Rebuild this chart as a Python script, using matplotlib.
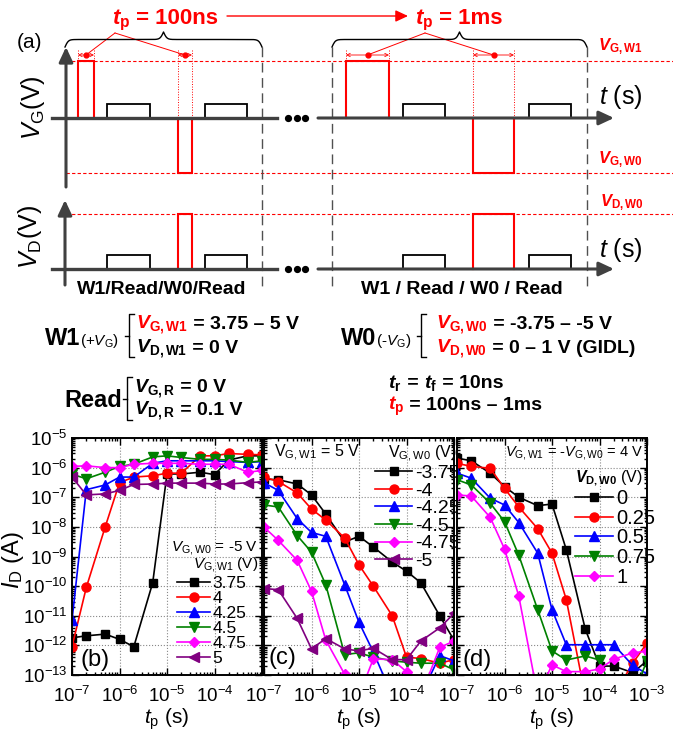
import numpy as np
import matplotlib
matplotlib.use('Agg')
import matplotlib.pyplot as plt
from matplotlib.ticker import LogLocator, NullFormatter

plt.rcParams['font.family'] = ['Liberation Sans', 'DejaVu Sans']
plt.rcParams['mathtext.fontset'] = 'custom'
plt.rcParams['mathtext.rm'] = 'Liberation Sans'
plt.rcParams['mathtext.it'] = 'Liberation Sans:italic'
plt.rcParams['mathtext.bf'] = 'Liberation Sans:bold'
try:
    plt.rcParams['mathtext.bfit'] = 'Liberation Sans:bold:italic'
except KeyError:
    pass

# ---------------- data ----------------
tp = [1e-7, 2e-7, 5e-7, 1e-6, 2e-6, 5e-6, 1e-5, 2e-5, 5e-5, 1e-4, 2e-4, 5e-4, 1e-3]

# (b) V_G,W0 = -5 V, varying V_G,W1
labels_b = ['3.75', '4', '4.25', '4.5', '4.75', '5']
b_375 = [1.8e-12, 2.1e-12, 2.4e-12, 1.6e-12, 9e-13, 1.3e-10, 6.1e-7, 6.1e-7, 7e-7, 5.8e-7, 1.8e-6, 2.5e-6, 2.5e-6]
b_400 = [9e-13, 9e-11, 1e-8, 3.1e-7, 4.8e-7, 5.3e-7, 6.5e-7, 6.5e-7, 2.5e-6, 2.5e-6, 3e-6, 2.8e-6, 2.7e-6]
b_425 = [7e-12, 1.8e-7, 2.6e-7, 4.8e-7, 4.8e-7, 1.4e-6, 1.7e-6, 1.7e-6, 1.7e-6, 1.7e-6, 1.6e-6, 1.5e-6, 1.6e-6]
b_450 = [6e-7, 4.2e-7, 7e-7, 1.1e-6, 1.3e-6, 2.3e-6, 2.5e-6, 2.2e-6, 1.9e-6, 1.9e-6, 1.8e-6, 1.5e-6, 1.7e-6]
b_475 = [1.1e-6, 1.15e-6, 1.0e-6, 1.0e-6, 1.3e-6, 1.4e-6, 1.4e-6, 1.4e-6, 1.3e-6, 1.3e-6, 1.3e-6, 7e-7, 8e-7]
b_500 = [4.8e-7, 1.2e-7, 1.3e-7, 1.7e-7, 2.7e-7, 2.8e-7, 3e-7, 3e-7, 3e-7, 2.8e-7, 2.8e-7, 3.1e-7, 3.3e-7]

# (c) V_G,W1 = 5 V, varying V_G,W0
labels_c = ['-3.75', '-4', '-4.25', '-4.5', '-4.75', '-5']
c_375 = [4.1e-7, 3.9e-7, 2.8e-7, 1.2e-7, 2.7e-8, 3.1e-9, 4.8e-9, 2.1e-9, 6.5e-10, 3.2e-10, 1.3e-10, 1e-11, 1.5e-12]
c_400 = [4.8e-7, 3.4e-7, 1.4e-7, 4e-8, 1.7e-8, 4.2e-9, 5.2e-10, 1e-10, 1e-11, 4e-13, 3.6e-13, 2.5e-13, 3.3e-13]
c_425 = [3.1e-7, 1.7e-7, 1.9e-8, 6.5e-9, 4.8e-9, 1.1e-10, 6e-12, 6e-13, 2e-14, 2e-14, 2e-14, 4.5e-13, 3e-13]
c_450 = [5.5e-8, 4.7e-8, 5.1e-9, 1.4e-9, 1.1e-10, 4.9e-13, 5.6e-13, 4e-13, 3e-13, 2.7e-13, 2.5e-13, 2.5e-13, 1.5e-13]
c_475 = [9.8e-9, 3.5e-9, 7.4e-10, 6.7e-11, 1.5e-12, 1.05e-13, 2e-14, 3.5e-13, 3.3e-13, 1.3e-13, 2e-14, 8.5e-13, 1.4e-12]
c_500 = [8.3e-11, 7.6e-11, 8.1e-12, 7.6e-13, 1.7e-12, 7.6e-13, 6.5e-13, 8e-13, 3.3e-13, 3.3e-13, 1.4e-12, 3.9e-12, 1.2e-11]

# (d) V_G,W1 = -V_G,W0 = 4 V, varying V_D,W0
labels_d = ['0', '0.25', '0.5', '0.75', '1']
d_000 = [2.1e-6, 1.7e-6, 6.5e-7, 2.3e-7, 1e-7, 5.2e-8, 5.9e-8, 1.7e-9, 3.6e-12, 2e-13, 2e-13, 1.2e-13, 3e-13]
d_025 = [1.4e-6, 1.1e-6, 9.5e-7, 2e-7, 4.7e-8, 8.7e-9, 1.3e-9, 3.5e-11, 2e-14, 2e-14, 2e-14, 2.5e-13, 1.2e-12]
d_050 = [6.5e-7, 4.4e-7, 9.3e-8, 5.5e-8, 1.4e-8, 1.3e-9, 1.6e-11, 1.05e-12, 1.05e-12, 1.05e-12, 1.05e-12, 2.1e-13, 1.1e-13]
d_075 = [3.9e-7, 2.6e-7, 6.3e-8, 1.5e-8, 1.1e-9, 1.6e-11, 6.5e-13, 3.2e-13, 4.4e-13, 3.2e-13, 2e-14, 2e-14, 3e-13]
d_100 = [1.2e-7, 1.1e-7, 2.1e-8, 1.8e-9, 4.6e-11, 2e-14, 2.2e-13, 1.3e-13, 1.3e-13, 1.6e-13, 3.4e-13, 5.6e-13, 6.4e-13]

# ---------------- figure ----------------
W, H = 673, 733
fig = plt.figure(figsize=(W / 100, H / 100), dpi=100)
ax0 = fig.add_axes([0, 0, 1, 1])
ax0.set_xlim(0, W)
ax0.set_ylim(H, 0)
ax0.axis('off')

RED = '#FF0000'
AXC = '#404040'
renderer = fig.canvas.get_renderer()


def rich(x, y, parts, fs, va='baseline'):
    for s, col, wt in parts:
        t = ax0.text(x, y, s, color=col, fontsize=fs, fontweight=wt, ha='left', va=va)
        bb = t.get_window_extent(renderer=renderer)
        x = bb.x1


def arrow(x0, y0, x1, y1, col=AXC, lw=2.2, ms=12):
    ax0.annotate('', xy=(x1, y1), xytext=(x0, y0),
                 arrowprops=dict(arrowstyle='-|>,head_length=0.75,head_width=0.35',
                                 color=col, lw=lw, shrinkA=0, shrinkB=0, mutation_scale=ms))


def pulse(x0, x1, yb, yt, col, lw):
    ax0.plot([x0, x0, x1, x1], [yb, yt, yt, yb], color=col, lw=lw, solid_joinstyle='miter')


def brace(x0, x1, ybase, h, beta=0.6):
    xm = (x0 + x1) / 2
    xh = np.linspace(x0, xm, 200)
    yh = 1 / (1 + np.exp(-beta * (xh - xh[0]))) + 1 / (1 + np.exp(-beta * (xh - xh[-1])))
    xf = np.concatenate([xh, 2 * xm - xh[::-1]])
    yf = np.concatenate([yh, yh[::-1]])
    ax0.plot(xf, ybase - (yf - 0.5) * h, color='k', lw=1.0)


# layout of schematic (pixel positions)
yG, yD = 118, 269
yW1, yW0, yDW0 = 61, 173, 214
set_short = dict(w1=(78, 94), r1=(107, 150), w0=(178, 192), r2=(205, 247))
set_long = dict(w1=(346, 389), r1=(403, 445), w0=(473, 514), r2=(529, 571))

for yy in (yW1, yW0, yDW0):
    ax0.plot([66, W], [yy, yy], color=RED, lw=0.8, dashes=(3, 2))

for xx in (262, 332, 587):
    ax0.plot([xx, xx], [47, 290], color='#505050', lw=1.0, dashes=(7, 4))

for st in (set_short, set_long):
    pulse(*st['w1'], yG, yW1, RED, 1.5)
    pulse(*st['w0'], yG, yW0, RED, 1.5)
    pulse(*st['r1'], yG, 104, 'k', 1.3)
    pulse(*st['r2'], yG, 104, 'k', 1.3)
    pulse(*st['w0'], yD, yDW0, RED, 1.5)
    pulse(*st['r1'], yD, 255, 'k', 1.3)
    pulse(*st['r2'], yD, 255, 'k', 1.3)
    for xx in st['w1']:
        ax0.plot([xx, xx], [50, yW1], color=RED, lw=0.7, ls=':')
    for xx in st['w0']:
        ax0.plot([xx, xx], [50, yW0], color=RED, lw=0.7, ls=':')

for st, tip in ((set_short, (115, 33)), (set_long, (425, 33))):
    for key in ('w1', 'w0'):
        a, b = st[key]
        m = (a + b) / 2
        ax0.annotate('', xy=(a, 55), xytext=(m, 55),
                     arrowprops=dict(arrowstyle='->', color=RED, lw=0.6, shrinkA=0, shrinkB=0, mutation_scale=6))
        ax0.annotate('', xy=(b, 55), xytext=(m, 55),
                     arrowprops=dict(arrowstyle='->', color=RED, lw=0.6, shrinkA=0, shrinkB=0, mutation_scale=6))
        ax0.plot([m], [55], 'o', color=RED, ms=3.5)
        ax0.plot([m, tip[0]], [55, tip[1]], color=RED, lw=0.7)

ax0.plot([52, 277], [yG, yG], color=AXC, lw=2.4)
arrow(318, yG, 614, yG)
arrow(66, 187, 66, 47)
ax0.plot([52, 277], [yD, yD], color=AXC, lw=2.4)
arrow(318, yD, 614, yD)
arrow(65, 285, 65, 200)
for yy in (yG, yD):
    ax0.plot([288, 296.5, 305], [yy] * 3, 'o', color='k', ms=4.2)

brace(65, 262, 47, 15)
brace(332, 587, 47, 15)

ax0.text(30, 42, '(a)', fontsize=15, ha='center', va='center')
ax0.text(33, 108, r'$V_\mathrm{G}$(V)', fontsize=18, rotation=90, ha='center', va='center')
ax0.text(30, 237, r'$V_\mathrm{D}$(V)', fontsize=18, rotation=90, ha='center', va='center')
ax0.text(621, 97, r'$t$ (s)', fontsize=18, ha='center', va='center')
ax0.text(621, 250, r'$t$ (s)', fontsize=18, ha='center', va='center')
ax0.text(598, 47, r'$\mathbfit{V}_\mathbf{G,W1}$', color=RED, fontsize=12, ha='left', va='center')
ax0.text(598, 160, r'$\mathbfit{V}_\mathbf{G,W0}$', color=RED, fontsize=12, ha='left', va='center')
ax0.text(600, 203, r'$\mathbfit{V}_\mathbf{D,W0}$', color=RED, fontsize=12, ha='left', va='center')

rich(112, 24, [(r'$\mathbfit{t}_\mathbf{p}$', RED, 'bold'), (' = 100ns', RED, 'bold')], 16)
rich(415, 24, [(r'$\mathbfit{t}_\mathbf{p}$', RED, 'bold'), (' = 1ms', RED, 'bold')], 16)
arrow(227, 16, 408, 16, col=RED, lw=1.0, ms=10)

ax0.text(162, 290, 'W1/Read/W0/Read', fontsize=14, fontweight='bold', ha='center', va='center')
ax0.text(462, 290, 'W1 / Read / W0 / Read', fontsize=14, fontweight='bold', ha='center', va='center')


def bracket(x, y0, y1):
    ax0.plot([x + 5, x, x, x + 5], [y0, y0, y1, y1], color='k', lw=1.0)
    ax0.plot([x - 4, x], [(y0 + y1) / 2] * 2, color='k', lw=1.0)


rich(45, 345, [('W1', 'k', 'bold')], 17)
rich(80, 345, [(r'(+$V_\mathrm{G}$)', 'k', 'normal')], 11)
bracket(129, 314, 357)
rich(136, 329, [(r'$\mathbfit{V}_\mathbf{G,W1}$', RED, 'bold'), (' = 3.75 \u2013 5 V', 'k', 'bold')], 14)
rich(136, 353, [(r'$\mathbfit{V}_\mathbf{D,W1}$', 'k', 'bold'), (' = 0 V', 'k', 'bold')], 14)

rich(341, 345, [('W0', 'k', 'bold')], 17)
rich(376, 345, [(r'(-$V_\mathrm{G}$)', 'k', 'normal')], 11)
bracket(421, 314, 357)
rich(436, 329, [(r'$\mathbfit{V}_\mathbf{G,W0}$', RED, 'bold'), (' = -3.75 \u2013 -5 V', 'k', 'bold')], 14)
rich(436, 353, [(r'$\mathbfit{V}_\mathbf{D,W0}$', RED, 'bold'), (' = 0 \u2013 1 V (GIDL)', 'k', 'bold')], 14)

rich(64, 407, [('Read', 'k', 'bold')], 17)
bracket(127, 377, 420)
rich(134, 392, [(r'$\mathbfit{V}_\mathbf{G,R}$', 'k', 'bold'), (' = 0 V', 'k', 'bold')], 14)
rich(134, 415, [(r'$\mathbfit{V}_\mathbf{D,R}$', 'k', 'bold'), (' = 0.1 V', 'k', 'bold')], 14)

rich(388, 388, [(r'$\mathbfit{t}_\mathbf{r}$', 'k', 'bold'), (' = ', 'k', 'bold'),
                (r'$\mathbfit{t}_\mathbf{f}$', 'k', 'bold'), (' = 10ns', 'k', 'bold')], 14)
rich(388, 410, [(r'$\mathbfit{t}_\mathbf{p}$', RED, 'bold'), (' = 100ns \u2013 1ms', 'k', 'bold')], 14)

# ---------------- bottom panels ----------------
ytop, ybot = 438, 675


def rect(x0, x1):
    return [x0 / W, 1 - ybot / H, (x1 - x0) / W, (ybot - ytop) / H]


colors = ['#000000', '#FF0000', '#0000FF', '#008000', '#FF00FF', '#800080']
markers = ['s', 'o', '^', 'v', 'D', '<']
msizes = [5.5, 6.5, 6.5, 6.5, 5.5, 6.5]

panels = [
    ('b', (72, 262), [b_375, b_400, b_425, b_450, b_475, b_500], labels_b, (0.553, 0.42), 0.0, 12.5),
    ('c', (264, 454), [c_375, c_400, c_425, c_450, c_475, c_500], labels_c, (0.585, 0.889), 0.0, 14),
    ('d', (457, 647), [d_000, d_025, d_050, d_075, d_100], labels_d, (0.62, 0.784), 0.03, 14.5),
]

for name, (x0, x1), series, labs, lpos, lsp, lfs in panels:
    ax = fig.add_axes(rect(x0, x1))
    ax.set_xscale('log')
    ax.set_yscale('log')
    handles = []
    for i, (ys, lab) in enumerate(zip(series, labs)):
        h, = ax.plot(tp, ys, color=colors[i], marker=markers[i], ms=msizes[i], lw=1.2,
                     mec=colors[i], mfc=colors[i], label=lab)
        handles.append(h)
    ax.set_xlim(1e-7, 1e-3)
    ax.set_ylim(1e-13, 1e-5)
    ax.xaxis.set_major_locator(LogLocator(base=10, numticks=20))
    ax.xaxis.set_minor_locator(LogLocator(base=10, subs=np.arange(2, 10), numticks=20))
    ax.yaxis.set_major_locator(LogLocator(base=10, numticks=20))
    ax.yaxis.set_minor_locator(LogLocator(base=10, subs=np.arange(2, 10), numticks=20))
    ax.xaxis.set_minor_formatter(NullFormatter())
    ax.yaxis.set_minor_formatter(NullFormatter())
    ax.grid(True, which='major', ls=':', color='#888888', lw=0.8)
    ax.tick_params(which='both', direction='in', top=True, right=True, width=1.0)
    ax.tick_params(axis='x', which='major', length=5, pad=8, labelsize=13.5)
    ax.tick_params(axis='y', which='major', length=5, pad=3, labelsize=13.5)
    ax.tick_params(which='minor', length=2.5)
    for sp in ax.spines.values():
        sp.set_linewidth(1.4)
    if name != 'b':
        ax.yaxis.set_major_formatter(NullFormatter())
    if name != 'd':
        ax.set_xticks([1e-7, 1e-6, 1e-5, 1e-4, 1e-3])
        ax.set_xticklabels([r'$\mathdefault{10^{-7}}$', r'$\mathdefault{10^{-6}}$',
                            r'$\mathdefault{10^{-5}}$', r'$\mathdefault{10^{-4}}$', ''])
    ax.legend(handles=handles, loc='upper left', bbox_to_anchor=lpos, frameon=False,
              fontsize=lfs, handlelength=1.9, handletextpad=0.15, labelspacing=lsp,
              borderpad=0, borderaxespad=0)


def ftext(x, y, s, **kw):
    fig.text(x / W, 1 - y / H, s, **kw)


ftext(13, 560, r'$I_\mathrm{D}$ (A)', fontsize=17, rotation=90, ha='center', va='center')
for xc in (167, 359, 552):
    ftext(xc, 719, r'$t_\mathrm{p}$ (s)', fontsize=15, ha='center', va='center')

ftext(258, 548, r'$V_\mathrm{G,W0}$ = -5 V', fontsize=11, ha='right', va='center')
ftext(258, 565, r'$V_\mathrm{G,W1}$ (V)', fontsize=11, ha='right', va='center')
ftext(274, 453, r'V$_\mathrm{G,W1}$ = 5 V', fontsize=11.5, ha='left', va='center')
ftext(388, 454, r'V$_\mathrm{G,W0}$ (V)', fontsize=11.5, ha='left', va='center')
ftext(643, 453, r'$V_\mathrm{G,W1}$ = -$V_\mathrm{G,W0}$ = 4 V', fontsize=10.5, ha='right', va='center')
ftext(643, 478, r'$\mathbfit{V}_\mathbf{D,W0}$ (V)', fontsize=11.5, ha='right', va='center')

ftext(80, 660, '(b)', fontsize=17, ha='left', va='center')
ftext(268, 658, '(c)', fontsize=17, ha='left', va='center')
ftext(463, 660, '(d)', fontsize=17, ha='left', va='center')

fig.savefig('out.png', dpi=100)
